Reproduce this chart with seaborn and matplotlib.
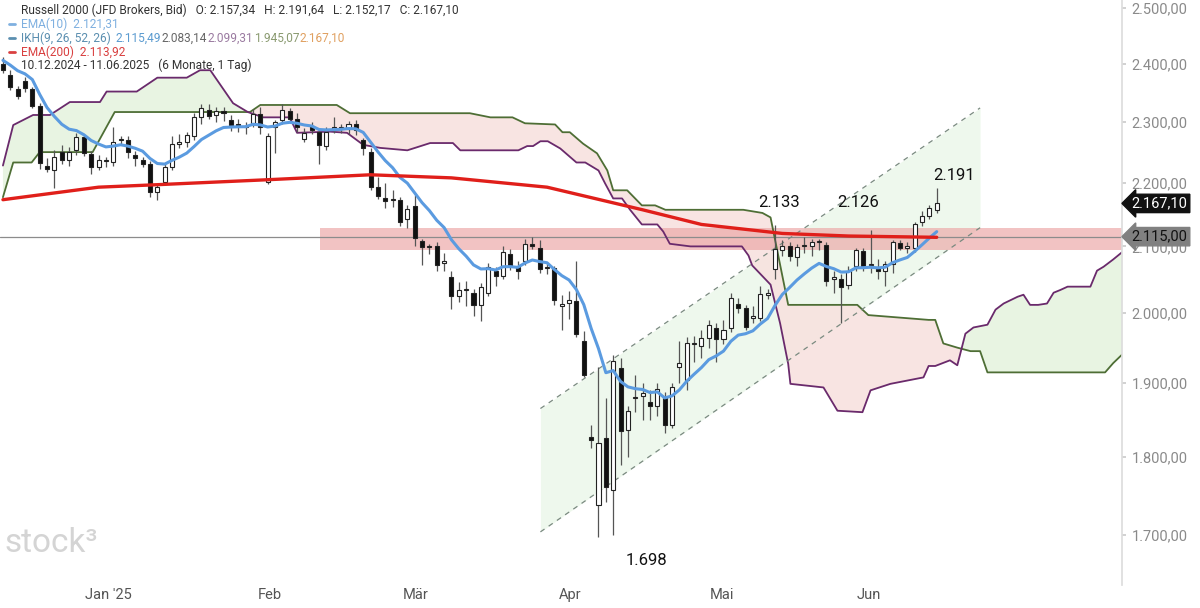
import numpy as np
import pandas as pd
import matplotlib
matplotlib.use('Agg')
import matplotlib.pyplot as plt
import seaborn as sns
from matplotlib.ticker import FixedLocator, NullLocator

sns.set_theme(style="white", font="Roboto")

# Daily candles (trading-day index 0..127)
opens = [2400, 2381, 2356, 2370, 2356, 2328, 2228, 2221, 2251, 2237, 2254, 2275, 2247, 2226, 2235, 2234,
         2270, 2270, 2245, 2237, 2230, 2186, 2202, 2226, 2264, 2266, 2276, 2308, 2320, 2312, 2318, 2304,
         2296, 2292, 2298, 2313, 2202, 2291, 2303, 2318, 2306, 2272, 2293, 2283, 2260, 2289, 2290, 2288,
         2296, 2270, 2251, 2193, 2176, 2172, 2172, 2142, 2163, 2108, 2099, 2101, 2074, 2053, 2025, 2034,
         2030, 2012, 2029, 2062, 2055, 2089, 2069, 2077, 2104, 2098, 2067, 2067, 2010, 2015, 2017, 1960,
         1826, 1738, 1825, 1757, 1921, 1836, 1879, 1882, 1874, 1868, 1881, 1842, 1922, 1904, 1955, 1953,
         1964, 1978, 1963, 1978, 2014, 2007, 1993, 1993, 2027, 2066, 2095, 2101, 2083, 2100, 2100, 2106,
         2102, 2051, 2050, 2041, 2070, 2093, 2071, 2069, 2063, 2073, 2105, 2098, 2097, 2138, 2148, 2157]
highs = [2412, 2390, 2362, 2378, 2360, 2332, 2240, 2253, 2262, 2258, 2282, 2280, 2252, 2245, 2242, 2292,
         2276, 2276, 2252, 2242, 2236, 2198, 2230, 2276, 2280, 2284, 2316, 2330, 2330, 2326, 2325, 2312,
         2306, 2300, 2322, 2326, 2282, 2304, 2330, 2324, 2316, 2290, 2300, 2290, 2292, 2308, 2296, 2302,
         2304, 2274, 2256, 2210, 2200, 2188, 2178, 2165, 2180, 2112, 2104, 2106, 2090, 2062, 2046, 2048,
         2036, 2044, 2074, 2068, 2100, 2096, 2078, 2112, 2114, 2110, 2075, 2070, 2026, 2032, 2078, 1974,
         1843, 1922, 1880, 1940, 1935, 1868, 1912, 1900, 1890, 1900, 1888, 1900, 1960, 1965, 1966, 1975,
         1990, 1985, 1990, 2030, 2022, 2012, 2010, 2040, 2035, 2133, 2110, 2106, 2104, 2115, 2112, 2112,
         2106, 2062, 2058, 2070, 2098, 2098, 2126, 2080, 2078, 2110, 2110, 2106, 2138, 2155, 2164, 2192]
lows = [2385, 2355, 2340, 2352, 2324, 2222, 2218, 2191, 2230, 2228, 2246, 2244, 2215, 2220, 2226, 2228,
        2262, 2240, 2228, 2225, 2178, 2172, 2196, 2220, 2256, 2258, 2270, 2296, 2306, 2300, 2302, 2285,
        2284, 2280, 2292, 2280, 2198, 2248, 2296, 2300, 2284, 2266, 2280, 2230, 2254, 2282, 2282, 2280,
        2278, 2246, 2188, 2174, 2160, 2162, 2132, 2128, 2100, 2072, 2088, 2062, 2062, 2006, 2016, 2010,
        1995, 1988, 2025, 2040, 2050, 2064, 2050, 2072, 2096, 2060, 2058, 2012, 1975, 1992, 1965, 1908,
        1812, 1698, 1742, 1700, 1789, 1800, 1860, 1850, 1850, 1855, 1832, 1838, 1900, 1890, 1930, 1935,
        1950, 1930, 1955, 1972, 2000, 1975, 1985, 1988, 2020, 2051, 2085, 2078, 2070, 2090, 2085, 2095,
        2040, 2030, 1985, 2035, 2062, 2062, 2060, 2050, 2040, 2060, 2095, 2090, 2092, 2132, 2142, 2152]
closes = [2390, 2360, 2344, 2358, 2328, 2232, 2223, 2242, 2237, 2251, 2275, 2248, 2226, 2237, 2237, 2266,
          2272, 2250, 2240, 2230, 2186, 2194, 2226, 2264, 2266, 2278, 2308, 2323, 2311, 2318, 2316, 2295,
          2294, 2293, 2314, 2291, 2276, 2300, 2320, 2306, 2291, 2282, 2286, 2261, 2284, 2289, 2290, 2296,
          2286, 2256, 2193, 2179, 2171, 2172, 2138, 2158, 2113, 2099, 2099, 2072, 2078, 2025, 2034, 2034,
          2012, 2038, 2068, 2055, 2091, 2070, 2063, 2104, 2100, 2066, 2067, 2019, 2014, 2019, 1970, 1912,
          1822, 1818, 1761, 1931, 1834, 1861, 1881, 1886, 1868, 1892, 1842, 1895, 1928, 1957, 1956, 1964,
          1983, 1962, 1976, 2022, 2008, 1979, 1993, 2028, 2029, 2096, 2101, 2085, 2099, 2100, 2106, 2106,
          2048, 2051, 2038, 2063, 2094, 2069, 2071, 2063, 2073, 2106, 2098, 2100, 2134, 2148, 2160, 2167]

# EMA(200) read at a few points
ema200_idx = [0, 13, 21, 36, 50, 61, 74, 87, 95, 106, 115, 127]
ema200_val = [2173, 2193, 2197, 2205, 2213, 2208, 2193, 2157, 2134, 2120, 2116, 2114]

# Ichimoku senkou lines (green and purple), shifted 26 days forward
green_idx = [0, 1.4, 3.9, 5.0, 12.2, 15.2, 33.6, 35, 45.4, 47.2, 63.5, 66.3, 69.3, 71, 75.1, 76.1, 77.1,
             78.9, 80.8, 82.2, 83, 84.9, 86.9, 88.7, 90.1, 100.7, 103.3, 104.4, 106.8, 116.2, 117.7,
             125.9, 126.8, 127.9, 129.8, 131.6, 132.9, 133.9, 149.9, 151, 152.2]
green_val = [2177, 2233, 2233, 2250, 2250, 2317, 2317, 2329, 2329, 2315, 2315, 2308, 2308, 2298, 2296,
             2283, 2283, 2264, 2248, 2220, 2188, 2188, 2164, 2164, 2157, 2157, 2152, 2145, 2012, 2012,
             1997, 1990, 1990, 1956, 1950, 1945, 1945, 1915, 1915, 1928, 1940]
purple_idx = [0, 1.4, 4.1, 6.4, 9.1, 13.2, 14.1, 18.2, 21, 25, 26.8, 28.2, 31.3, 33.3, 35.4, 39, 40,
              44.5, 46.8, 49, 51.3, 55, 56.3, 58.1, 61.2, 62.2, 70.1, 71.3, 72.1, 73.1, 74.1, 75.8, 78,
              79.2, 81, 81.9, 83, 84.2, 85.3, 86.9, 89, 89.8, 90.7, 93.5, 100.5, 101.4, 101.9, 104.4,
              105.7, 106.8, 107.1, 111.6, 113.5, 116.9, 118, 120.7, 125.2, 125.9, 126.8, 128.8, 129.8,
              130.9, 132, 133.9, 135, 136.1, 138, 138.8, 139.7, 140.8, 142, 142.9, 143.8, 144.8, 147.9,
              148.8, 149.7, 151, 152.2]
purple_val = [2228, 2295, 2312, 2312, 2334, 2334, 2352, 2352, 2376, 2376, 2389, 2389, 2332, 2317, 2308,
              2308, 2282, 2284, 2282, 2262, 2257, 2253, 2258, 2265, 2265, 2253, 2253, 2260, 2260, 2268,
              2268, 2256, 2233, 2233, 2220, 2199, 2175, 2175, 2157, 2134, 2134, 2123, 2104, 2100, 2100,
              2086, 2071, 2042, 1985, 1927, 1899, 1894, 1862, 1860, 1890, 1899, 1908, 1924, 1924, 1932,
              1925, 1970, 1979, 1983, 2005, 2014, 2024, 2027, 2012, 2012, 2014, 2030, 2034, 2039, 2039,
              2063, 2069, 2080, 2091]

# trend channel (start/end index, lower and upper price)
chan_idx = [73.1, 132.9]
chan_low = [1704, 2129]
chan_up = [1865, 2324]

zone_low, zone_high, zone_start = 2094, 2129, 43.1
ref_level = 2115
annotations = [(105.5, "2.133", 2157), (116.3, "2.126", 2157), (129.4, "2.191", 2200), (87.5, "1.698", 1660)]

month_pos = [14.3, 36.3, 56.1, 77.1, 97.8, 117.7]
month_lbl = ["Jan '25", "Feb", "Mär", "Apr", "Mai", "Jun"]
yticks = [1700, 1800, 1900, 2000, 2100, 2200, 2300, 2400, 2500]

ikh_values = ["2.115,49", "2.083,14", "2.099,31", "1.945,07", "2.167,10"]
ikh_colors = ['#5b9bd0', '#666666', '#9a7aa0', '#8a9a70', '#e0a060']


def de_fmt(v):
    return f"{v:,.2f}".replace(",", "X").replace(".", ",").replace("X", ".")


# EMA(10) from closes
ema10 = []
prev = 2410.0
for c in closes:
    prev = prev + (c - prev) * 2 / 11
    ema10.append(prev)

df = pd.DataFrame({"i": np.arange(len(closes)), "o": opens, "h": highs, "l": lows, "c": closes, "ema10": ema10})

fig = plt.figure(figsize=(12, 6.08), dpi=100)
ax = fig.add_axes([0, 0.0378, 0.935, 0.9622])
ax.set_yscale('log')
ax.set_ylim(1639, 2515)
ax.set_xlim(-0.4, 152.2)

# cloud: green fill where purple above green line, red otherwise
grid = np.linspace(0, 152.2, 1500)
g = np.interp(grid, green_idx, green_val)
p = np.interp(grid, purple_idx, purple_val)
ax.fill_between(grid, g, p, where=p >= g, color='#e6f3df', alpha=0.9, lw=0, interpolate=True, zorder=1)
ax.fill_between(grid, g, p, where=p < g, color='#f8e2df', alpha=0.9, lw=0, interpolate=True, zorder=1)
ax.plot(green_idx, green_val, color='#4e6e35', lw=1.3, zorder=2)
ax.plot(purple_idx, purple_val, color='#6a2a6c', lw=1.3, zorder=2)

# channel
ax.fill_between(chan_idx, chan_low, chan_up, color='#e8f6e6', alpha=0.7, lw=0, zorder=0.5)
ax.plot(chan_idx, chan_low, color='#7a8a80', lw=0.9, ls=(0, (4, 4)), zorder=2)
ax.plot(chan_idx, chan_up, color='#7a8a80', lw=0.9, ls=(0, (4, 4)), zorder=2)

# resistance zone and reference line
ax.fill_between([zone_start, 152.2], zone_low, zone_high, color='#eba4a4', alpha=0.65, lw=0, zorder=1.5)
ax.axhline(ref_level, color='#8c8c8c', lw=0.9, zorder=1.6)

# candles
w = 0.55
for r in df.itertuples():
    up = r.c >= r.o
    ax.vlines(r.i, r.l, r.h, color='#555555', lw=0.9, zorder=3)
    lo, hi = min(r.o, r.c), max(r.o, r.c)
    if hi - lo < 2:
        hi = lo + 2
    ax.bar(r.i, hi - lo, bottom=lo, width=w, color='white' if up else '#111111',
           edgecolor='#222222', linewidth=0.8, zorder=4)

# moving averages
sns.lineplot(data=df, x="i", y="ema10", ax=ax, color='#5b9be0', lw=2.2, zorder=5)
ema200_df = pd.DataFrame({"i": ema200_idx, "v": ema200_val})
sns.lineplot(data=ema200_df, x="i", y="v", ax=ax, color='#e01f1a', lw=2.4, zorder=5)

for xi, txt, yv in annotations:
    ax.text(xi, yv, txt, fontsize=12, color='#111111', ha='center', va='bottom', zorder=6)

# axes styling
for s in ['top', 'left', 'bottom']:
    ax.spines[s].set_visible(False)
ax.spines['right'].set_color('#dddddd')
ax.yaxis.tick_right()
ax.yaxis.set_major_locator(FixedLocator(yticks))
ax.yaxis.set_minor_locator(NullLocator())
ax.set_yticklabels([de_fmt(v) for v in yticks], fontsize=10.5, color='#8a8a8a')
ax.tick_params(axis='y', length=3, color='#cccccc', pad=4)
ax.set_xticks(month_pos)
ax.set_xticklabels(month_lbl, fontsize=10.5, color='#555555')
ax.tick_params(axis='x', length=0, pad=2)
ax.set_xlabel("")
ax.set_ylabel("")
ax.grid(False)

# price tags on the axis
for v, fc, tc in [(2167.10, '#111111', 'white'), (2115.00, '#808080', '#111111')]:
    ax.annotate(de_fmt(v), xy=(1.0, v), xycoords=('axes fraction', 'data'), xytext=(7, 0),
                textcoords='offset points', fontsize=10.5, color=tc, va='center', ha='left',
                annotation_clip=False, zorder=10,
                bbox=dict(boxstyle='larrow,pad=0.15', fc=fc, ec=fc))

# legend text block
H = 608.0


def ftxt(x, y, s, c='#333333', size=8.6):
    fig.text(x / 1200, 1 - y / H, s, fontsize=size, color=c, va='center', ha='left')


ftxt(21, 10, "Russell 2000 (JFD Brokers, Bid)   O: 2.157,34   H: 2.191,64   L: 2.152,17   C: 2.167,10")
ftxt(21, 24, "EMA(10)  2.121,31", c='#7fb0e0')
ftxt(21, 38, "IKH(9, 26, 52, 26)", c='#5b8fb0')
for k, (val, col) in enumerate(zip(ikh_values, ikh_colors)):
    ftxt(116 + 46 * k, 38, val, c=col)
ftxt(21, 52, "EMA(200)  2.113,92", c='#d94040')
ftxt(21, 65, "10.12.2024 - 11.06.2025   (6 Monate, 1 Tag)")
for yy, cc in [(24, '#7fb0e0'), (38, '#5b8fb0'), (52, '#d94040')]:
    fig.add_artist(plt.Line2D([9 / 1200, 15 / 1200], [1 - yy / H] * 2, color=cc, lw=2))
ftxt(5, 543, "stock³", c='#d4d4d4', size=24)

fig.savefig("out.png", dpi=100)
